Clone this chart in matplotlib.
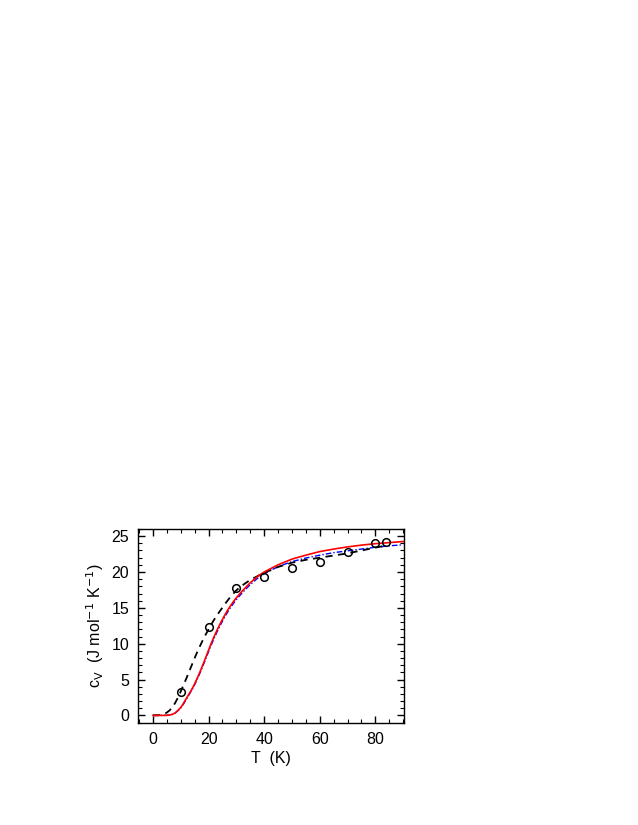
import numpy as np
import matplotlib.pyplot as plt
from matplotlib.ticker import MultipleLocator

plt.rcParams['font.family'] = ['Liberation Sans', 'DejaVu Sans']

# measured points (open circles)
T_data = [10, 20, 30, 40, 50, 60, 70, 80, 84]
cv_data = [3.3, 12.3, 17.8, 19.3, 20.6, 21.4, 22.8, 24.0, 24.25]

# red solid curve
T_red = [0, 4, 5, 6, 7, 8, 9, 10, 11, 12, 13, 14, 15, 16, 17, 18, 19, 20, 21, 22,
         23, 24, 25, 26, 27, 28, 29, 30, 32, 35, 38, 40, 45, 50, 55, 60, 65, 70,
         75, 80, 85, 90]
cv_red = [0, 0, 0.01, 0.05, 0.15, 0.35, 0.7, 1.1, 1.7, 2.35, 3.0, 3.65, 4.4, 5.25,
          6.15, 7.1, 8.1, 9.1, 10.1, 11.0, 11.85, 12.65, 13.4, 14.1, 14.75, 15.35,
          15.9, 16.4, 17.3, 18.5, 19.5, 20.0, 21.0, 21.8, 22.35, 22.85, 23.2, 23.5,
          23.75, 23.95, 24.1, 24.25]

# black dashed curve
T_blk = [0, 2, 3, 4, 5, 6, 7, 8, 9, 10, 11, 12, 13, 14, 15, 16, 17, 18, 19, 20,
         21, 22, 23, 24, 25, 26, 28, 30, 32, 35, 38, 40, 45, 50, 55, 60, 65, 70,
         75, 80, 84]
cv_blk = [0, 0.02, 0.08, 0.2, 0.4, 0.7, 1.15, 1.75, 2.5, 3.35, 4.25, 5.15, 6.1,
          7.05, 8.0, 8.9, 9.75, 10.55, 11.3, 12.0, 12.7, 13.35, 13.95, 14.5, 15.05,
          15.6, 16.6, 17.45, 18.1, 18.9, 19.5, 19.9, 20.7, 21.3, 21.7, 22.0, 22.3,
          22.6, 23.0, 23.4, 23.7]

# blue dash-dot curve
T_blu = [0, 4, 5, 6, 7, 8, 9, 10, 11, 12, 13, 14, 15, 16, 17, 18, 19, 20, 21, 22,
         23, 24, 25, 26, 27, 28, 29, 30, 32, 35, 38, 40, 45, 50, 55, 60, 65, 70,
         75, 80, 85, 90]
cv_blu = [0, 0, 0.01, 0.05, 0.14, 0.33, 0.66, 1.05, 1.6, 2.25, 2.9, 3.55, 4.3, 5.1,
          6.0, 6.95, 7.9, 8.9, 9.85, 10.75, 11.6, 12.4, 13.15, 13.85, 14.5, 15.1,
          15.65, 16.15, 17.05, 18.25, 19.25, 19.75, 20.75, 21.45, 21.95, 22.35,
          22.7, 22.95, 23.2, 23.45, 23.65, 23.8]

fig = plt.figure(figsize=(6.38, 8.25), dpi=100)
ax = fig.add_axes([0.2158, 0.1233, 0.4174, 0.2355])

ax.plot(T_blu, cv_blu, color='blue', lw=1.0, dashes=(4, 1.5, 1, 1.5))
ax.plot(T_blk, cv_blk, color='black', lw=1.3, dashes=(4, 3))
ax.plot(T_red, cv_red, color='red', lw=1.2)
ax.plot(T_data, cv_data, 'o', mfc='none', mec='black', mew=1.1, ms=5.5)

ax.set_xlim(-5.5, 90.3)
ax.set_ylim(-1.1, 26.0)
ax.xaxis.set_major_locator(MultipleLocator(20))
ax.xaxis.set_minor_locator(MultipleLocator(5))
ax.yaxis.set_major_locator(MultipleLocator(5))
ax.yaxis.set_minor_locator(MultipleLocator(1))
ax.tick_params(which='both', direction='in', top=True, right=True, labelsize=11.5)
ax.tick_params(which='major', length=5, width=1, pad=6)
ax.tick_params(which='minor', length=3, width=0.8)
for s in ax.spines.values():
    s.set_linewidth(1.0)

ax.set_xlabel('T  (K)', fontsize=11.5, labelpad=3)
ax.set_ylabel(r'c$_{\mathrm{V}}$  (J mol$^{-1}$ K$^{-1}$)', fontsize=11.5, labelpad=4)

fig.savefig('out.png', dpi=100)
